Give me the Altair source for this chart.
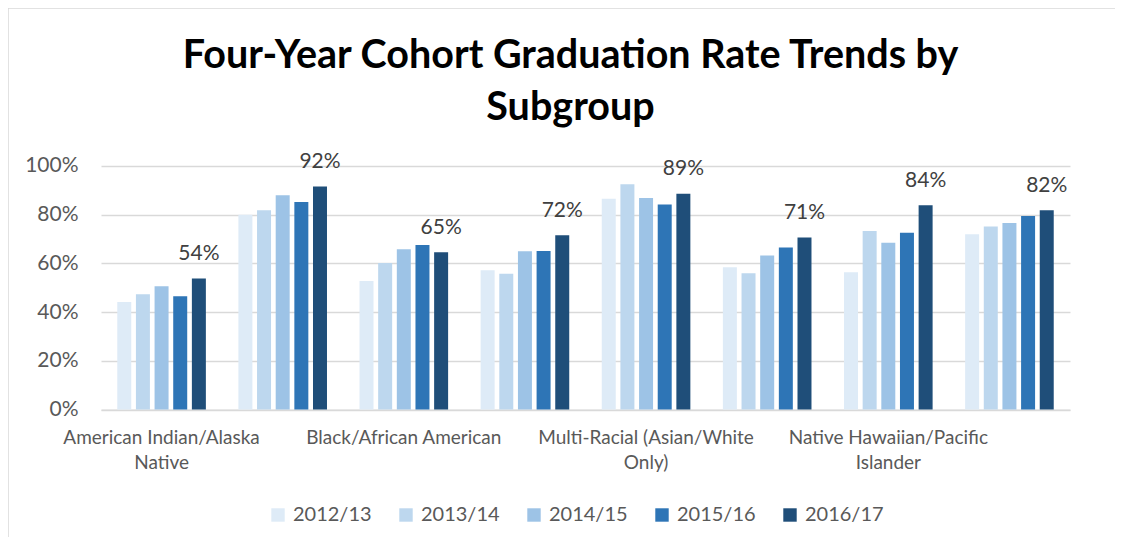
import altair as alt
import pandas as pd

groups = [
    "American Indian/Alaska Native",
    "Asian",
    "Black/African American",
    "Hispanic/Latino",
    "Multi-Racial (Asian/White Only)",
    "Multi-Racial (Other)",
    "Native Hawaiian/Pacific Islander",
    "White",
]
# displayed axis labels (Excel skipped every second one)
axis_lines = [
    ["American Indian/Alaska", "Native"],
    [],
    ["Black/African American"],
    [],
    ["Multi-Racial (Asian/White", "Only)"],
    [],
    ["Native Hawaiian/Pacific", "Islander"],
    [],
]
years = ["2012/13", "2013/14", "2014/15", "2015/16", "2016/17"]
r2012_13 = [44.2, 80.0, 52.8, 57.2, 86.6, 58.4, 56.4, 72.0]
r2013_14 = [47.3, 81.8, 60.2, 55.8, 92.5, 56.0, 73.3, 75.2]
r2014_15 = [50.6, 88.0, 65.8, 65.0, 86.9, 63.3, 68.5, 76.6]
r2015_16 = [46.5, 85.2, 67.6, 65.1, 84.2, 66.5, 72.6, 79.5]
r2016_17 = [53.8, 91.6, 64.6, 71.6, 88.6, 70.6, 83.9, 81.8]
colors = ["#DEEBF7", "#BDD7EE", "#9DC3E6", "#2E75B6", "#1F4E79"]
labelled_year = "2016/17"

series = [r2012_13, r2013_14, r2014_15, r2015_16, r2016_17]
rows = []
for y, vals in zip(years, series):
    for g, v in zip(groups, vals):
        rows.append({"group": g, "year": y, "rate": v})
df = pd.DataFrame(rows)

# build label expression
parts = []
for g, lines in zip(groups, axis_lines):
    arr = "[" + ",".join("'" + s + "'" for s in lines) + "]" if lines else "''"
    parts.append(f"datum.label == '{g}' ? {arr} : ")
label_expr = "".join(parts) + "''"

FONT = "Lato"

x_enc = alt.X(
    "group:N",
    sort=groups,
    title=None,
    scale=alt.Scale(paddingInner=0.23, paddingOuter=0.115),
    axis=alt.Axis(
        labelExpr=label_expr,
        labelAngle=0,
        labelFontSize=19,
        labelColor="#595959",
        labelPadding=19,
        labelLineHeight=25,
        labelLimit=0,
        labelOverlap=False,
        ticks=False,
        tickSize=0,
        domainColor="#d9d9d9",
        domainWidth=1.3,
        grid=False,
    ),
)
xo_enc = alt.XOffset(
    "year:N", sort=years, scale=alt.Scale(paddingInner=0.25, paddingOuter=0.125)
)
y_enc = alt.Y(
    "rate:Q",
    title=None,
    scale=alt.Scale(domain=[0, 100], nice=False),
    axis=alt.Axis(
        values=[0, 20, 40, 60, 80, 100],
        labelExpr="datum.value + '%'",
        labelFontSize=21,
        labelColor="#595959",
        labelPadding=23,
        ticks=False,
        tickSize=0,
        domain=False,
        gridColor="#d9d9d9",
        gridWidth=1.3,
    ),
)

bars = alt.Chart(df).mark_bar().encode(
    x=x_enc,
    xOffset=xo_enc,
    y=y_enc,
    color=alt.Color(
        "year:N",
        sort=years,
        scale=alt.Scale(domain=years, range=colors),
        legend=alt.Legend(
            title=None,
            orient="none",
            legendX=167,
            legendY=339,
            direction="horizontal",
            symbolType="square",
            symbolSize=180,
            symbolStrokeWidth=0,
            labelFontSize=20,
            labelColor="#595959",
            labelOffset=5,
            columnPadding=24,
        ),
    ),
)

labels = (
    alt.Chart(df)
    .transform_calculate(
        lbl=f"datum.year == '{labelled_year}' ? format(datum.rate, '.0f') + '%' : ''"
    )
    .mark_text(fontSize=21, color="#404040", baseline="alphabetic", dy=-18.5, font=FONT)
    .encode(x=x_enc, xOffset=xo_enc, y=y_enc, text="lbl:N")
)

frame = (
    alt.Chart(alt.Data(values=[{"k": 1}]))
    .mark_rect(fill=None, stroke="#d9d9d9", strokeWidth=1.5)
    .encode(
        x=alt.value(-93), x2=alt.value(1200), y=alt.value(-158), y2=alt.value(700)
    )
)

chart = (
    alt.layer(frame, bars, labels)
    .properties(
        width=969,
        height=243.6,
        padding={"left": 93, "top": 158, "right": 45, "bottom": 127},
        autosize=alt.AutoSizeParams(type="none"),
        title=alt.TitleParams(
            ["Four-Year Cohort Graduation Rate Trends by", "Subgroup"],
            font=FONT,
            fontSize=39.5,
            fontWeight="bold",
            color="black",
            anchor="middle",
            dx=-15,
            offset=-121,
            lineHeight=51.4,
        ),
    )
    .configure(font=FONT)
    .configure_view(stroke=None)
)

chart.save("out.html", embed_options={"renderer": "svg", "actions": False})
